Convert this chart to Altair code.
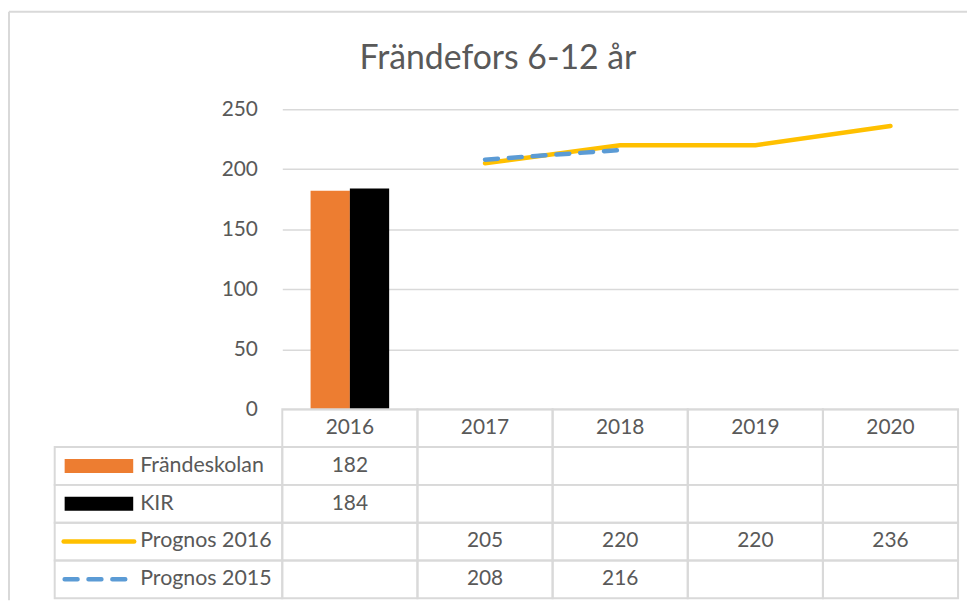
import altair as alt
import pandas as pd

# ---------------- data ----------------
title_text = "Frändefors 6-12 år"
years = ["2016", "2017", "2018", "2019", "2020"]
series = ["Frändeskolan", "KIR", "Prognos 2016", "Prognos 2015"]
frandeskolan = [182, None, None, None, None]
kir = [184, None, None, None, None]
prognos_2016 = [None, 205, 220, 220, 236]
prognos_2015 = [None, 208, 216, None, None]
y_ticks = [0, 50, 100, 150, 200, 250]

series_values = {
    "Frändeskolan": frandeskolan,
    "KIR": kir,
    "Prognos 2016": prognos_2016,
    "Prognos 2015": prognos_2015,
}

rows = []
for s in series:
    for yr, v in zip(years, series_values[s]):
        rows.append({"series": s, "year": yr, "value": v,
                     "label": "" if v is None else str(v)})
df = pd.DataFrame(rows)
df_valid = df[df["label"] != ""].copy()
df_valid["value"] = df_valid["value"].astype(float)

# ---------------- style ----------------
FONT = "Lato"
GRAY = "#595959"
GRID = "#D9D9D9"
colors = ["#ED7D31", "#000000", "#FFC000", "#5B9BD5"]
color_scale = alt.Scale(domain=series, range=colors)

MAIN_W, MAIN_H = 680, 302
LEG_W = 229
TABLE_H = 190

x_scale = alt.Scale(domain=years, paddingInner=0, paddingOuter=0)
y_scale = alt.Scale(domain=[0, 250], nice=False, zero=True)
y_axis = alt.Axis(values=y_ticks, grid=True, gridColor=GRID, gridWidth=1.5,
                  domain=False, ticks=False, labelFontSize=21, labelColor=GRAY,
                  labelFont=FONT, labelPadding=25, title=None)

# ---------------- main plot ----------------
bars = alt.Chart(df_valid[df_valid["series"].isin(["Frändeskolan", "KIR"])]).mark_bar().encode(
    x=alt.X("year:N", scale=x_scale, axis=None),
    xOffset=alt.XOffset("series:N", scale=alt.Scale(domain=["Frändeskolan", "KIR"],
                                                      paddingInner=0, paddingOuter=0.72)),
    y=alt.Y("value:Q", scale=y_scale, axis=y_axis),
    color=alt.Color("series:N", scale=color_scale, legend=None),
)

line16 = alt.Chart(df_valid[df_valid["series"] == "Prognos 2016"]).mark_line(
    color="#FFC000", strokeWidth=4.5, strokeCap="round", strokeJoin="round"
).encode(
    x=alt.X("year:N", scale=x_scale, axis=None),
    y=alt.Y("value:Q", scale=y_scale, axis=y_axis),
)

line15 = alt.Chart(df_valid[df_valid["series"] == "Prognos 2015"]).mark_line(
    color="#5B9BD5", strokeWidth=4.5, strokeCap="round", strokeDash=[13, 11]
).encode(
    x=alt.X("year:N", scale=x_scale, axis=None),
    y=alt.Y("value:Q", scale=y_scale, axis=y_axis),
)

main = alt.layer(bars, line16, line15).properties(
    width=MAIN_W, height=MAIN_H,
    title=alt.Title(title_text, fontSize=34, font=FONT, color=GRAY, fontWeight="normal",
                    anchor="middle", dx=-123, offset=22),
)

# empty top-left cell; also carries the chart-area frame (left and top edges)
frame_df = pd.DataFrame({"a": [0]})
frame_left = alt.Chart(frame_df).mark_rule(color=GRID, strokeWidth=2).encode(
    x=alt.value(-46), y=alt.value(-98), y2=alt.value(494))
frame_top = alt.Chart(frame_df).mark_rule(color=GRID, strokeWidth=2).encode(
    x=alt.value(-46), x2=alt.value(918), y=alt.value(-98))
spacer = alt.layer(frame_left, frame_top).properties(width=LEG_W, height=MAIN_H)

# ---------------- data table ----------------
row_domain = ["header"] + series
row_scale = alt.Scale(domain=row_domain, paddingInner=0, paddingOuter=0)

cells = pd.DataFrame([{"row": r, "year": y} for r in row_domain for y in years])
header_txt = pd.DataFrame({"row": ["header"] * len(years), "year": years, "label": years})
value_txt = df_valid.rename(columns={"series": "row"})[["row", "year", "label"]]
table_txt = pd.concat([header_txt, value_txt], ignore_index=True)

tx = alt.X("year:N", scale=x_scale, axis=None)
ty = alt.Y("row:N", scale=row_scale, axis=None)

table_cells = alt.Chart(cells).mark_rect(fillOpacity=0, stroke=GRID, strokeWidth=2).encode(
    x=tx, y=ty)
table_text = alt.Chart(table_txt).mark_text(font=FONT, fontSize=21, color=GRAY,
                                            baseline="middle", align="center").encode(
    x=tx, y=ty, text="label:N")
table = alt.layer(table_cells, table_text).properties(width=MAIN_W, height=TABLE_H)

# ---------------- legend column ----------------
leg_df = pd.DataFrame({"row": series})
ly = alt.Y("row:N", scale=row_scale, axis=None)

leg_cells = alt.Chart(leg_df).mark_rect(fillOpacity=0, stroke=GRID, strokeWidth=2).encode(
    y=ly, x=alt.value(0), x2=alt.value(LEG_W))
leg_bars = alt.Chart(leg_df[leg_df["row"].isin(["Frändeskolan", "KIR"])]).mark_rule(
    strokeWidth=14, strokeCap="butt").encode(
    y=ly, x=alt.value(10), x2=alt.value(79),
    color=alt.Color("row:N", scale=color_scale, legend=None))
leg_l16 = alt.Chart(leg_df[leg_df["row"] == "Prognos 2016"]).mark_rule(
    strokeWidth=4.5, strokeCap="round", color="#FFC000").encode(
    y=ly, x=alt.value(9), x2=alt.value(80))
leg_l15 = alt.Chart(leg_df[leg_df["row"] == "Prognos 2015"]).mark_rule(
    strokeWidth=4.5, strokeCap="round", color="#5B9BD5", strokeDash=[13, 11]).encode(
    y=ly, x=alt.value(10), x2=alt.value(76))
leg_text = alt.Chart(leg_df).mark_text(font=FONT, fontSize=21.5, color=GRAY,
                                       align="left", baseline="middle").encode(
    y=ly, x=alt.value(86), text="row:N")
legend = alt.layer(leg_cells, leg_bars, leg_l16, leg_l15, leg_text).properties(
    width=LEG_W, height=TABLE_H)

# ---------------- compose ----------------
chart = alt.concat(spacer, main, legend, table, columns=2, spacing=0, bounds="flush").properties(
    padding={"left": 0, "top": 1, "right": 0, "bottom": 0},
    background="white",
).configure_view(stroke=None)

chart.save("out.html", embed_options={"renderer": "svg", "actions": False})
